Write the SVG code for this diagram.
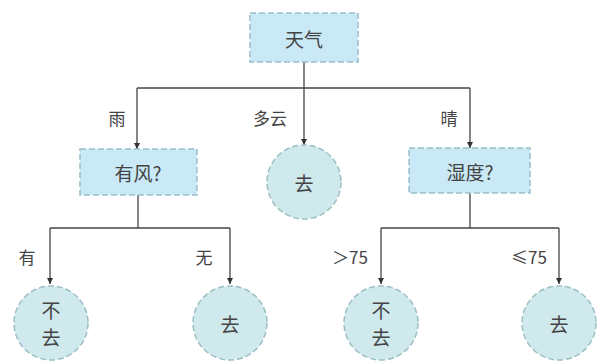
<svg xmlns="http://www.w3.org/2000/svg" width="598" height="363" viewBox="0 0 598 363">
<defs>
<marker id="arr" viewBox="0 0 10 10" refX="10" refY="5" markerWidth="6" markerHeight="6" orient="auto" markerUnits="userSpaceOnUse">
<path d="M0,0 L10,5 L0,10 z" fill="#333"/>
</marker>
<style>
.box{fill:#c9e9f6;stroke:#9cbfcc;stroke-width:1.5;stroke-dasharray:6 3}
.leaf{fill:#cfe9ec;stroke:#9cbfc4;stroke-width:1.5;stroke-dasharray:6 3}
.t{font-family:"Noto Sans CJK SC","Liberation Sans",sans-serif;font-size:19px;fill:#444;text-anchor:middle;dominant-baseline:central}
.l{font-family:"Noto Sans CJK SC","Liberation Sans",sans-serif;font-size:17px;fill:#444;text-anchor:middle;dominant-baseline:central}
.c{fill:none;stroke:#444;stroke-width:1.3}
</style>
</defs>
<rect width="598" height="363" fill="#fff"/>
<g id="connectors">
<path class="c" d="M304,62 V88"/>
<path class="c" d="M137,88 H470"/>
<path class="c" d="M137,88 V149" marker-end="url(#arr)"/>
<path class="c" d="M304,88 V145" marker-end="url(#arr)"/>
<path class="c" d="M470,88 V148" marker-end="url(#arr)"/>
<path class="c" d="M138,195 V228"/>
<path class="c" d="M50,228 H230"/>
<path class="c" d="M50,228 V284" marker-end="url(#arr)"/>
<path class="c" d="M230,228 V284" marker-end="url(#arr)"/>
<path class="c" d="M470,193 V228"/>
<path class="c" d="M381,228 H559"/>
<path class="c" d="M381,228 V284" marker-end="url(#arr)"/>
<path class="c" d="M559,228 V284" marker-end="url(#arr)"/>
</g>
<g id="labels">
<text class="l" x="117" y="117">雨</text>
<text class="l" x="270" y="117">多云</text>
<text class="l" x="449" y="117">晴</text>
<text class="l" x="27" y="256">有</text>
<text class="l" x="204" y="256">无</text>
<text class="l" x="350" y="256">＞75</text>
<text class="l" x="529" y="256">≤75</text>
</g>
<g id="n-weather">
<rect class="box" x="250" y="13" width="108" height="49"/>
<text class="t" x="304" y="38">天气</text>
</g>
<g id="n-wind">
<rect class="box" x="80" y="149" width="117" height="46"/>
<text class="t" x="138" y="172">有风?</text>
</g>
<g id="n-cloudy">
<circle class="leaf" cx="304" cy="182" r="37"/>
<text class="t" x="304" y="182">去</text>
</g>
<g id="n-humid">
<rect class="box" x="409" y="148" width="121" height="45"/>
<text class="t" x="470" y="171">湿度?</text>
</g>
<g id="n-yes-wind">
<circle class="leaf" cx="51" cy="323" r="37"/>
<text class="t" x="51" y="309">不</text>
<text class="t" x="51" y="336">去</text>
</g>
<g id="n-no-wind">
<circle class="leaf" cx="230" cy="323" r="37"/>
<text class="t" x="230" y="323">去</text>
</g>
<g id="n-high">
<circle class="leaf" cx="381" cy="323" r="37"/>
<text class="t" x="381" y="309">不</text>
<text class="t" x="381" y="336">去</text>
</g>
<g id="n-low">
<circle class="leaf" cx="559" cy="323" r="37"/>
<text class="t" x="559" y="323">去</text>
</g>
</svg>
